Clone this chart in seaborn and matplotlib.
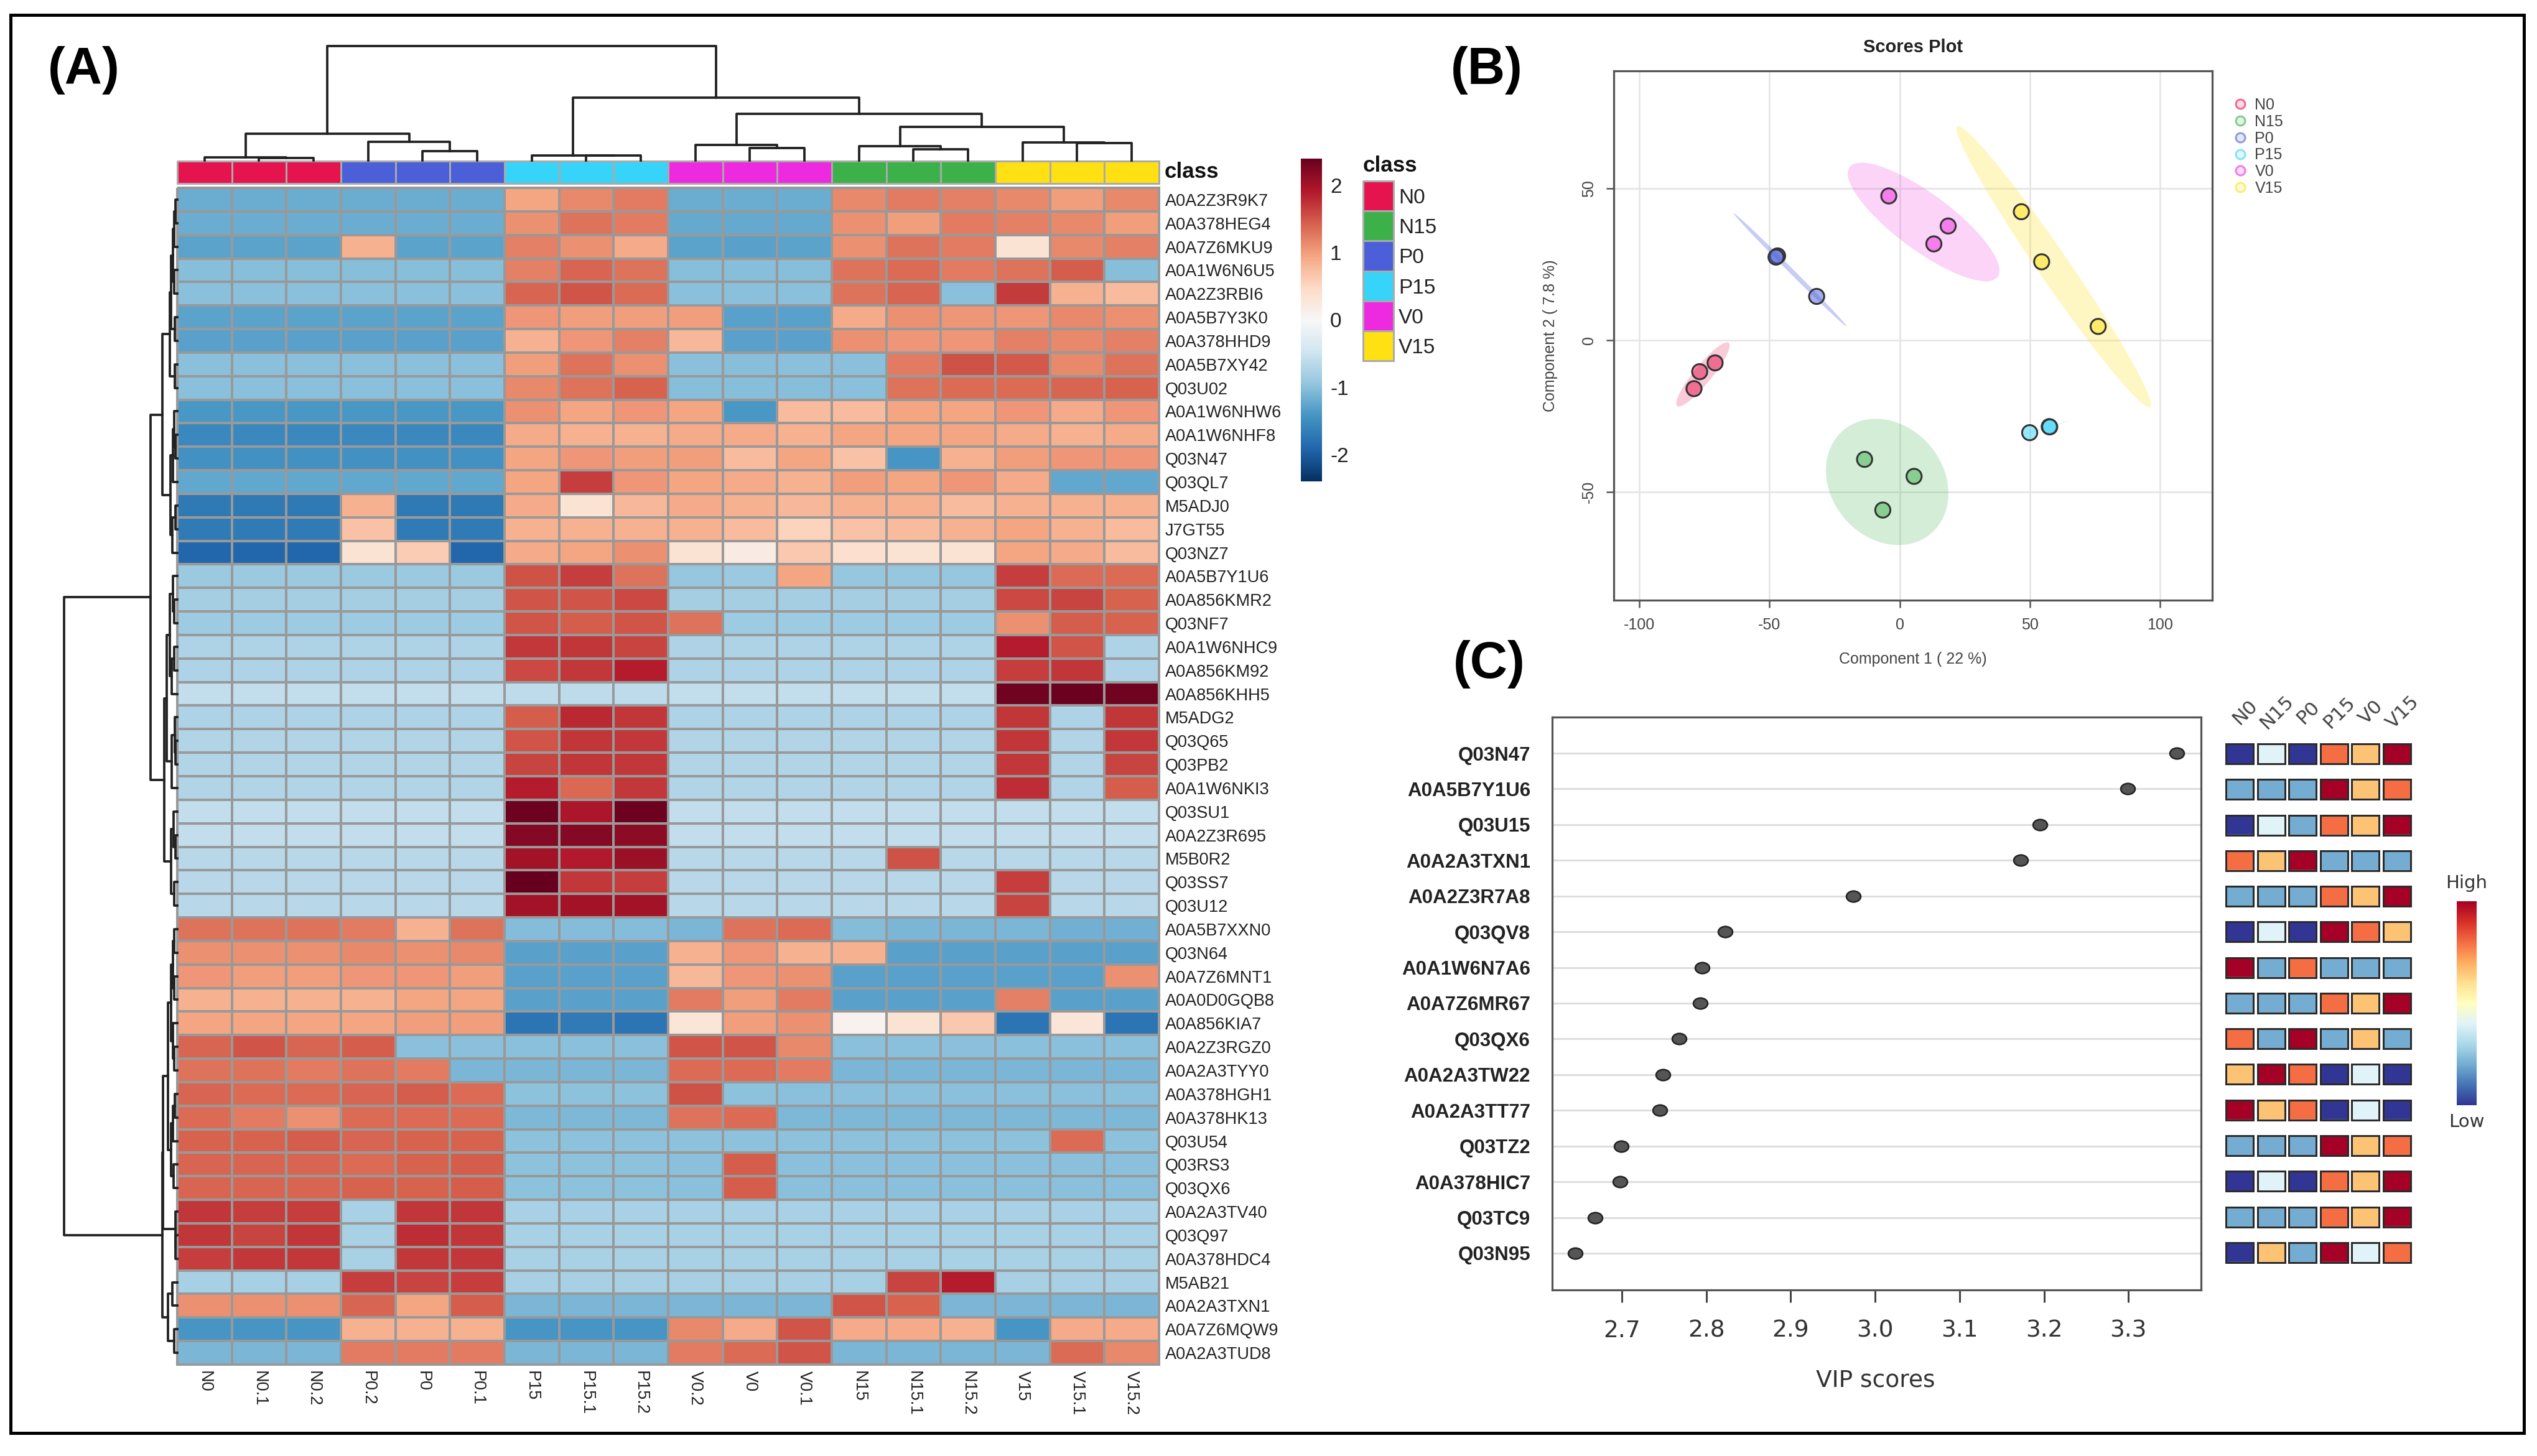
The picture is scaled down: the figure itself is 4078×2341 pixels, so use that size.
import numpy as np
import pandas as pd
import matplotlib
matplotlib.use("Agg")
import matplotlib.pyplot as plt
from matplotlib.colors import ListedColormap, Normalize
from matplotlib.cm import ScalarMappable
from matplotlib.lines import Line2D
from matplotlib.markers import MarkerStyle
from matplotlib.patches import Rectangle
from matplotlib.transforms import Affine2D
import seaborn as sns

W, H = 4079, 2341

# ---------------- panel A data ----------------
heat_cols = ["N0","N0.1","N0.2","P0.2","P0","P0.1","P15","P15.1","P15.2","V0.2","V0","V0.1",
             "N15","N15.1","N15.2","V15","V15.1","V15.2"]
heat_rows = ["A0A2Z3R9K7","A0A378HEG4","A0A7Z6MKU9","A0A1W6N6U5","A0A2Z3RBI6","A0A5B7Y3K0","A0A378HHD9",
             "A0A5B7XY42","Q03U02","A0A1W6NHW6","A0A1W6NHF8","Q03N47","Q03QL7","M5ADJ0","J7GT55","Q03NZ7",
             "A0A5B7Y1U6","A0A856KMR2","Q03NF7","A0A1W6NHC9","A0A856KM92","A0A856KHH5","M5ADG2","Q03Q65",
             "Q03PB2","A0A1W6NKI3","Q03SU1","A0A2Z3R695","M5B0R2","Q03SS7","Q03U12","A0A5B7XXN0","Q03N64",
             "A0A7Z6MNT1","A0A0D0GQB8","A0A856KIA7","A0A2Z3RGZ0","A0A2A3TYY0","A0A378HGH1","A0A378HK13",
             "Q03U54","Q03RS3","Q03QX6","A0A2A3TV40","Q03Q97","A0A378HDC4","M5AB21","A0A2A3TXN1",
             "A0A7Z6MQW9","A0A2A3TUD8"]
heat_top = [
 [-1.2]*6+[.95,1.15,1.25]+[-1.2]*3+[1.15,1.25,1.2,1.15,1.0,1.15],
 [-1.2]*6+[1.1,1.3,1.25]+[-1.22]*3+[1.1,1.0,1.25,1.2,1.15,1.0],
 [-1.28,-1.28,-1.28,.85,-1.28,-1.28,1.2,1.1,.9,-1.28,-1.3,-1.28,1.1,1.3,1.25,.35,1.15,1.2],
 [-1.03]*6+[1.2,1.4,1.3]+[-1.03]*3+[1.3,1.35,1.25,1.3,1.45,-1.03],
 [-1.0]*6+[1.4,1.5,1.35]+[-1.0]*3+[1.3,1.4,-1.0,1.68,.85,.75],
 [-1.28]*6+[1.05,1.0,1.0,1.0,-1.3,-1.3,.9,1.1,1.05,1.05,1.15,1.1],
 [-1.3]*6+[.85,1.05,1.2,.8,-1.3,-1.3,1.1,1.05,1.05,1.2,1.15,1.2],
 [-1.0]*6+[1.0,1.3,1.1,-1.0,-1.02,-1.0,-1.0,1.25,1.52,1.48,1.15,1.3],
 [-1.0]*6+[1.15,1.3,1.42,-1.02,-1.02,-1.02,-1.0,1.3,1.35,1.35,1.4,1.42],
 [-1.4]*6+[1.1,.95,1.05,.95,-1.4,.75,.75,.95,.95,1.05,.9,1.05],
 [-1.55]*6+[.9,.85,.85,.9,.9,.85,.95,.95,.95,.9,.85,.9],
 [-1.45]*6+[.95,1.05,1.0,1.0,.75,.95,.7,-1.42,.85,1.0,1.05,1.05],
 [-1.25]*6+[.95,1.65,1.05,.95,.9,.85,1.0,.95,1.05,.9,-1.25,-1.25],
 [-1.72,-1.72,-1.72,.85,-1.72,-1.72,.9,.35,.8,.9,.85,.8,.85,.85,.75,.85,.85,.85],
 [-1.7,-1.7,-1.7,.7,-1.7,-1.7,.85,.85,.85,.85,.75,.55,.7,.75,.85,.95,.85,.75],
 [-1.9,-1.9,-1.9,.35,.6,-1.9,.9,.95,1.1,.35,.2,.65,.4,.35,.35,.95,.9,.75],
]
heat_mid = [
 [-.9]*6+[1.52,1.65,1.3,-.92,-.9,.95,-.92,-.92,-.92,1.65,1.35,1.35],
 [-.82]*6+[1.5,1.5,1.58]+[-.82]*6+[1.58,1.62,1.42],
 [-.88]*6+[1.5,1.46,1.5,1.3,-.88,-.88,-.88,-.88,-.88,1.1,1.46,1.42],
 [-.75]*6+[1.7,1.72,1.62]+[-.75]*6+[1.88,1.5,-.75],
 [-.75]*6+[1.58,1.7,1.88]+[-.75]*6+[1.65,1.72,-.75],
 [-.6]*6+[-.62]*3+[-.6]*6+[2.33,2.37,2.33],
 [-.75]*6+[1.46,1.8,1.72]+[-.75]*6+[1.72,-.75,1.72],
 [-.72]*6+[1.5,1.72,1.7]+[-.72]*6+[1.72,-.72,1.7],
 [-.72]*6+[1.62,1.72,1.7]+[-.72]*6+[1.7,-.72,1.62],
 [-.72]*6+[1.88,1.38,1.7]+[-.72]*6+[1.78,-.72,1.46],
 [-.6]*6+[2.35,1.95,2.35]+[-.6]*9,
 [-.6]*6+[2.2,2.2,2.15]+[-.6]*9,
 [-.66]*6+[2.02,1.9,2.08,-.66,-.66,-.66,-.66,1.52,-.66,-.66,-.66,-.66],
 [-.66]*6+[2.4,1.7,1.65]+[-.66]*6+[1.65,-.66,-.66],
 [-.66]*6+[2.02,2.02,2.02]+[-.66]*6+[1.62,-.66,-.66],
]
heat_low = [
 [1.3,1.3,1.3,1.25,.85,1.3,-1.05,-1.05,-1.05,-1.1,1.3,1.35,-1.05,-1.1,-1.1,-1.1,-1.15,-1.15],
 [1.1,1.1,1.1,1.15,1.1,1.15,-1.3,-1.3,-1.3,.85,1.05,.85,.85,-1.3,-1.3,-1.3,-1.3,-1.3],
 [1.05,1.0,1.0,1.05,1.05,1.0,-1.3,-1.3,-1.3,.8,1.05,1.1,-1.3,-1.3,-1.3,-1.3,-1.3,1.1],
 [.85,.85,.85,.85,.95,.95,-1.3,-1.3,-1.3,1.25,1.0,1.25,-1.3,-1.3,-1.3,1.2,-1.3,-1.3],
 [.95,.95,.95,.95,1.0,1.0,-1.75,-1.7,-1.75,.3,1.0,1.1,.1,.35,.65,-1.75,.3,-1.75],
 [1.4,1.5,1.4,1.45,-1.0,-1.0,-1.0,-1.0,-1.0,1.5,1.5,1.15,-1.0,-1.0,-1.0,-1.0,-1.0,-1.0],
 [1.3,1.3,1.25,1.3,1.25,-1.1,-1.1,-1.1,-1.1,1.35,1.35,1.25,-1.1,-1.1,-1.1,-1.1,-1.1,-1.1],
 [1.4,1.35,1.35,1.4,1.46,1.35,-.98,-.98,-.98,1.52,-.98,-1.0,-1.0,-1.0,-1.0,-1.0,-1.0,-1.0],
 [1.35,1.25,1.1,1.35,1.35,1.35,-1.08,-1.08,-1.08,1.3,1.35,-1.08,-1.08,-1.08,-1.08,-1.08,-1.08,-1.08],
 [1.42,1.42,1.46,1.4,1.42,1.42]+[-.98]*10+[1.35,-.98],
 [1.4,1.4,1.4,1.35,1.42,1.46,-.98,-.98,-.98,-1.0,1.46,-1.0,-1.0,-1.0,-1.0,-1.0,-1.0,-1.0],
 [1.4,1.4,1.4,1.42,1.42,1.46,-.98,-.98,-.98,-1.0,1.46,-1.0,-1.0,-1.0,-1.0,-1.0,-1.0,-1.0],
 [1.72,1.65,1.65,-.78,1.72,1.72]+[-.78]*12,
 [1.72,1.62,1.72,-.78,1.78,1.72]+[-.78]*12,
 [1.65,1.7,1.7,-.78,1.7,1.7]+[-.78]*12,
 [-.8,-.8,-.8,1.65,1.62,1.65,-.8,-.8,-.8,-.8,-.8,-.8,-.8,1.62,1.88,-.8,-.8,-.8],
 [1.1,1.1,1.1,1.4,.95,1.46,-1.1,-1.1,-1.1,-1.1,-1.1,-1.1,1.5,1.42,-1.1,-1.1,-1.1,-1.1],
 [-1.42,-1.42,-1.42,.85,.85,.85,-1.42,-1.42,-1.42,1.15,.9,1.5,.9,.9,.85,-1.42,.9,.9],
 [-1.1,-1.1,-1.1,1.25,1.25,1.25,-1.1,-1.1,-1.1,1.25,1.35,1.5,-1.1,-1.1,-1.1,-1.1,1.35,1.15],
]
annot_order = [0,0,0,2,2,2,3,3,3,4,4,4,1,1,1,5,5,5]
class_names = ["N0","N15","P0","P15","V0","V15"]
class_colors = ["#e6144e","#3cb14a","#4a5fd8","#36d4f8","#ee2ae0","#ffe012"]

# dendrogram structure: (height, left, right), leaves are column / row numbers
col_tree = (184,
    (43, (5, 0, (4, 1, 2)), (30, 3, (15, 4, 5))),
    (101, (8.5, 6, (8, 7, 8)),
          (75, (25, 9, (20, 10, 11)),
               (54, (23, 12, (18, 13, 14)), (29, 15, (28, 16, 17))))))
rows_a = (24,
    (12, (9.5, (7, (4.5, (3, 0, 1), 2), (5, 3, 4)), (4, 5, 6)), (4, 7, 8)),
    (11, (7, (5, 9, (3, 10, 11)), 12), (8, (3, 13, 14), 15)))
rows_b = (21,
    (17, (12, (7, 16, (5, 17, 18)), (9, (5, 19, 20), 21)), (9, (4, 22, (3, 23, 24)), 25)),
    (10, (6, 26, (3, 27, 28)), (5, 29, 30)))
rows_c = (24,
    (23, (15, (10, (7, (5, 31, 32), (5, 33, 34)), (7, 35, (5, 36, 37))),
              (10, (7, (4, 38, 39), 40), (6, 41, 42))),
         (3, 43, (3, 44, 45))),
    (15, (8, 46, 47), (5, 48, 49)))
row_tree = (182, (43, rows_a, rows_b), rows_c)

# ---------------- panel B data ----------------
score_group = ["N0","N0","N0","P0","P0","P0","V0","V0","V0","V15","V15","V15","P15","P15","P15","N15","N15","N15"]
score_x = [-70.9,-76.8,-79,-46.9,-47.5,-31.9,-4.2,18.6,13.1,46.7,54.5,76.2,49.9,57.4,57.6,-13.5,5.5,-6.5]
score_y = [-7.5,-10.4,-16,27.75,27.35,14.4,47.5,37.6,31.7,42.3,25.8,4.5,-30.5,-28.5,-28.6,-39.3,-44.9,-56]

# ---------------- panel C data ----------------
vip_names = ["Q03N47","A0A5B7Y1U6","Q03U15","A0A2A3TXN1","A0A2Z3R7A8","Q03QV8","A0A1W6N7A6","A0A7Z6MR67",
             "Q03QX6","A0A2A3TW22","A0A2A3TT77","Q03TZ2","A0A378HIC7","Q03TC9","Q03N95"]
vip_scores = [3.357,3.299,3.195,3.172,2.974,2.822,2.795,2.793,2.768,2.749,2.745,2.699,2.698,2.668,2.645]
vip_ranks = [[0,2,0,4,3,5],[1,1,1,5,3,4],[0,2,1,4,3,5],[4,3,5,1,1,1],[1,1,1,4,3,5],
             [0,2,0,5,4,3],[5,1,4,1,1,1],[1,1,1,4,3,5],[4,1,5,1,3,1],[3,5,4,0,2,0],
             [5,3,4,0,2,0],[1,1,1,5,3,4],[0,2,0,4,3,5],[1,1,1,4,3,5],[0,3,1,5,2,4]]
rank_scale = [0.0,0.2,0.4,0.66,0.8,1.0]

# ---------------- helpers ----------------
sns.set_theme(style="white")
plt.rcParams["font.family"] = ["Liberation Sans", "DejaVu Sans"]
plt.rcParams["axes.unicode_minus"] = False

fig = plt.figure(figsize=(W/300, H/300), dpi=300, facecolor="white")
px = 72/300   # points per pixel

def ax_px(x0, y0, x1, y1, **kw):
    return fig.add_axes([x0/W, 1-y1/H, (x1-x0)/W, (y1-y0)/H], **kw)

def ftext(x, y, s, **kw):
    return fig.text(x/W, 1-y/H, s, **kw)

def draw_tree(ax, node, vertical):
    if not isinstance(node, tuple):
        return node+0.5, 0
    h, a, b = node
    pa, ha = draw_tree(ax, a, vertical)
    pb, hb = draw_tree(ax, b, vertical)
    xs, ys = [pa, pa, pb, pb], [ha, h, h, hb]
    if not vertical:
        xs, ys = ys, xs
    ax.plot(xs, ys, color="#222222", lw=3.8*px, solid_capstyle="projecting", clip_on=False)
    return (pa+pb)/2, h

ftext(135, 113, "(A)", fontsize=20, fontweight="bold", ha="center", va="center", color="black")
ftext(2390, 113, "(B)", fontsize=20, fontweight="bold", ha="center", va="center", color="black")
ftext(2394, 1068, "(C)", fontsize=20, fontweight="bold", ha="center", va="center", color="black")

# ---------------- panel A ----------------
HL, HT, HR, HB = 285, 302, 1863, 2194
heat_df = pd.DataFrame(heat_top+heat_mid+heat_low, index=heat_rows, columns=heat_cols)
ax_h = ax_px(HL, HT, HR, HB)
ax_cb = ax_px(2091, 255, 2125, 774)
sns.heatmap(heat_df, ax=ax_h, cmap="RdBu_r", vmin=-2.4, vmax=2.4, linewidths=3.6*px, linecolor="#999999",
            cbar_ax=ax_cb, xticklabels=True, yticklabels=True)
ax_h.collections[0].set_clip_on(False)
ax_h.yaxis.tick_right()
ax_h.tick_params(axis="y", length=0, pad=10*px, labelsize=6.5, labelright=True, labelleft=False, labelrotation=0, labelcolor="#222222")
ax_h.tick_params(axis="x", length=0, pad=10*px, labelsize=6.5, labelrotation=270, labelcolor="#222222")
for t in ax_h.get_xticklabels():
    t.set_va("top"); t.set_ha("center")
ax_cb.set_yticks([-2,-1,0,1,2])
ax_cb.tick_params(axis="y", length=0, pad=13*px, labelsize=8, labelcolor="#222222")
ax_h.collections[0].colorbar.outline.set_visible(False)

ax_a = ax_px(HL, 259, HR, 295)
sns.heatmap(np.array([annot_order]), ax=ax_a, cmap=ListedColormap(class_colors), vmin=-.5, vmax=5.5,
            cbar=False, linewidths=3*px, linecolor="#aaaaaa", xticklabels=False, yticklabels=False)
ax_a.collections[0].set_clip_on(False)
ftext(1872, 276, "class", fontsize=8.4, fontweight="bold", ha="left", va="center", color="#111111")

ax_l = ax_px(2191, 291, 2240, 580)
sns.heatmap(np.arange(6).reshape(6, 1), ax=ax_l, cmap=ListedColormap(class_colors), vmin=-.5, vmax=5.5,
            cbar=False, linewidths=3*px, linecolor="#aaaaaa", xticklabels=False, yticklabels=class_names)
ax_l.collections[0].set_clip_on(False)
ax_l.yaxis.tick_right()
ax_l.tick_params(axis="y", length=0, pad=8*px, labelsize=8, labelrotation=0, labelleft=False, labelright=True, labelcolor="#222222")
ftext(2191, 267, "class", fontsize=8.4, fontweight="bold", ha="left", va="center", color="#111111")

ax_dc = ax_px(HL, 70, HR, 258)
ax_dc.set_xlim(0, 18); ax_dc.set_ylim(0, 188); ax_dc.axis("off")
draw_tree(ax_dc, col_tree, True)
ax_dr = ax_px(95, HT, HL, HB)
ax_dr.set_xlim(190, 0); ax_dr.set_ylim(50, 0); ax_dr.axis("off")
draw_tree(ax_dr, row_tree, False)

# ---------------- panel B ----------------
ax_b = ax_px(2594, 114, 3556, 965)
score_df = pd.DataFrame({"group": score_group, "x": score_x, "y": score_y})
theta = np.linspace(0, 2*np.pi, 200)
circle = np.vstack([np.cos(theta), np.sin(theta)])
ell_alpha = {"N0":.22,"N15":.22,"P0":.3,"P15":.2,"V0":.2,"V15":.25}
for name, col in zip(class_names, class_colors):
    pts = score_df[score_df.group == name][["x","y"]].to_numpy()
    vals, vecs = np.linalg.eigh(np.cov(pts.T))
    shape = vecs @ np.diag(np.sqrt(np.clip(vals, 0, None)))
    ring = pts.mean(axis=0)[:, None] + 2.448*shape @ circle
    ax_b.fill(ring[0], ring[1], color=col, alpha=ell_alpha[name], lw=0, zorder=1.5)
palette_b = {n: matplotlib.colors.to_rgba(c, .5) for n, c in zip(class_names, class_colors)}
sns.scatterplot(data=score_df, x="x", y="y", hue="group", palette=palette_b, ax=ax_b, s=34,
                edgecolor="#333333", linewidth=3*px, legend=False, zorder=3)
ax_b.set_xlim(-109.8, 120); ax_b.set_ylim(-85.7, 88.7)
ax_b.set_xticks([-100,-50,0,50,100]); ax_b.set_yticks([-50,0,50])
ax_b.grid(True, color="#e4e4e4", lw=2.5*px); ax_b.set_axisbelow(True)
for s in ax_b.spines.values():
    s.set_color("#555555"); s.set_linewidth(3.2*px); s.set_visible(True)
ax_b.tick_params(axis="both", length=12*px, width=2.5*px, color="#555555", labelsize=6, labelcolor="#444444",
                 bottom=True, left=True, pad=16*px)
plt.setp(ax_b.get_yticklabels(), rotation=90, va="center")
ax_b.set_xlabel("Component 1 ( 22 %)", fontsize=6, color="#444444")
ax_b.set_ylabel("Component 2 ( 7.8 %)", fontsize=6, color="#444444")
ax_b.xaxis.set_label_coords(.5, -(1060-965)/851, transform=ax_b.transAxes)
ax_b.yaxis.set_label_coords(-(2594-2492)/962, .5, transform=ax_b.transAxes)
ax_b.xaxis.label.set_va("center"); ax_b.yaxis.label.set_va("center")
ftext(3075, 76, "Scores Plot", fontsize=7, fontweight="bold", ha="center", va="center", color="#222222")
handles = [Line2D([], [], ls="", marker="o", ms=15*px, mfc=matplotlib.colors.to_rgba(c, .15),
                  mec=matplotlib.colors.to_rgba(c, .6), mew=3*px) for c in class_colors]
ax_b.legend(handles, class_names, loc="upper left", bbox_to_anchor=(3590/W, 1-157/H), bbox_transform=fig.transFigure,
            frameon=False, fontsize=6, labelcolor="#444444", borderpad=0, borderaxespad=0, handlelength=.9,
            handletextpad=.48, labelspacing=.11)

# ---------------- panel C ----------------
ax_v = ax_px(2495, 1153, 3538, 2074)
vip_df = pd.DataFrame({"name": vip_names, "score": vip_scores})
oval = MarkerStyle("o", transform=Affine2D().scale(1.3, 1.0))
sns.scatterplot(data=vip_df, x="score", y="name", ax=ax_v, s=18, color="#555555", edgecolor="#222222",
                linewidth=2.5*px, zorder=3, marker=oval)
ax_v.set_xlim(2.6175, 3.386)
ax_v.set_ylim(14+(2074-2015)/57.4, -(1211-1153)/57.4)
ax_v.set_xticks([2.7,2.8,2.9,3.0,3.1,3.2,3.3])
ax_v.set_yticks(range(15)); ax_v.set_yticklabels(vip_names)
ax_v.grid(True, axis="y", color="#dddddd", lw=3*px); ax_v.set_axisbelow(True)
for s in ax_v.spines.values():
    s.set_color("#555555"); s.set_linewidth(3.2*px); s.set_visible(True)
ax_v.tick_params(axis="y", length=0, pad=35*px, labelsize=7.5, labelcolor="#222222")
ax_v.tick_params(axis="x", length=20*px, width=3*px, color="#444444", pad=28*px, bottom=True)
for t in ax_v.get_yticklabels():
    t.set_fontweight("bold")
for t in ax_v.get_xticklabels():
    t.set_fontfamily("DejaVu Sans"); t.set_fontsize(9); t.set_color("#333333")
ax_v.set_ylabel("")
ax_v.set_xlabel("VIP scores", fontsize=9, family="DejaVu Sans", color="#333333")
ax_v.xaxis.set_label_coords((3015-2495)/1043, -(2219-2074)/921, transform=ax_v.transAxes)
ax_v.xaxis.label.set_va("center")

ax_m = ax_px(3575, 1153, 3878, 2074)
rank_arr = np.array(vip_ranks)
scale_arr = np.array(rank_scale)[rank_arr]
sns.heatmap(scale_arr, ax=ax_m, cmap="RdYlBu_r", vmin=0, vmax=1, cbar=False, xticklabels=False, yticklabels=False)
ax_m.set_ylim(15.55, -0.53)
cell_w, cell_h = 44/50.5, 32/57.3
gap_h = (57.3-32+1)*px
gap_v = (50.5-44+1)*px
for r in range(16):
    ax_m.hlines(r, 0, 6, color="white", lw=gap_h, zorder=3)
for c in range(7):
    ax_m.vlines(c, 0, 15, color="white", lw=gap_v, zorder=3)
for r in range(15):
    for c in range(6):
        ax_m.add_patch(Rectangle((c+.5-cell_w/2, r+.5-cell_h/2), cell_w, cell_h, fill=False,
                                 ec="#2b2b2b", lw=3*px, zorder=4))
for c, n in enumerate(class_names):
    ftext(3600.5+50.5*c+9, 1145, n, fontsize=7.5, family="DejaVu Sans", rotation=45, ha="center", va="center", color="#444444")

ax_g = ax_px(3949, 1449, 3981, 1777)
cb = fig.colorbar(ScalarMappable(Normalize(0, 1), "RdYlBu_r"), cax=ax_g)
cb.set_ticks([]); cb.outline.set_visible(False)
ftext(3965, 1420, "High", fontsize=7, family="DejaVu Sans", ha="center", va="center", color="#333333")
ftext(3965, 1804, "Low", fontsize=7, family="DejaVu Sans", ha="center", va="center", color="#333333")

# ---------------- outer frame ----------------
fig.add_artist(Rectangle((17/W, 1-2304/H), (4057-17)/W, (2304-24)/H, transform=fig.transFigure, fill=False,
                         ec="black", lw=5*px))

fig.savefig("out.png", dpi=300, facecolor="white")
